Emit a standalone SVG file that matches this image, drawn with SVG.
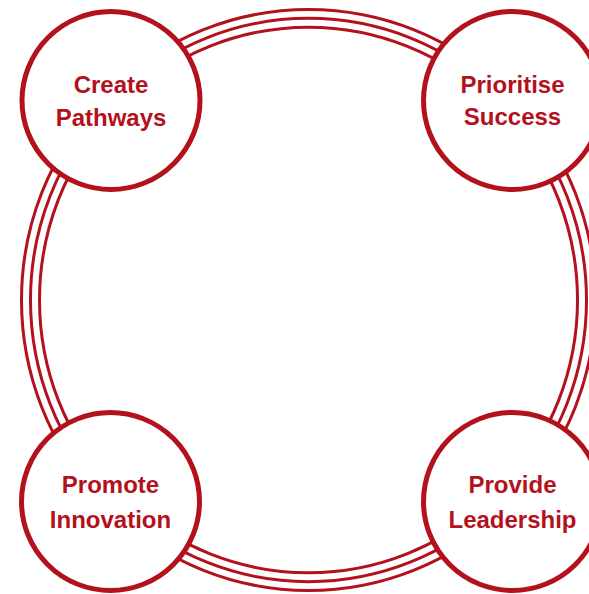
<svg xmlns="http://www.w3.org/2000/svg" width="589" height="594" viewBox="0 0 589 594">
  <style>
    .ring { fill: none; stroke: #b3111c; stroke-width: 3; }
    .node { fill: #ffffff; stroke: #b3111c; stroke-width: 5; }
    .label { font-family: "Liberation Sans", Arial, sans-serif; font-weight: bold; font-size: 24px; fill: #b3111c; text-anchor: middle; }
  </style>
  <rect width="589" height="594" fill="#ffffff"/>
  <g id="connectors">
    <ellipse class="ring" cx="308.5" cy="300" rx="269" ry="272.8"/>
    <ellipse class="ring" cx="308.5" cy="300" rx="278" ry="281.7"/>
    <ellipse class="ring" cx="308.5" cy="300" rx="287" ry="290.5"/>
  </g>
  <g id="create-pathways">
    <circle class="node" cx="111" cy="100.5" r="89"/>
    <text class="label" x="111" y="93">Create</text>
    <text class="label" x="111" y="126">Pathways</text>
  </g>
  <g id="prioritise-success">
    <circle class="node" cx="512.5" cy="100.5" r="89"/>
    <text class="label" x="512.5" y="93">Prioritise</text>
    <text class="label" x="512.5" y="125">Success</text>
  </g>
  <g id="promote-innovation">
    <circle class="node" cx="110.5" cy="501.5" r="89"/>
    <text class="label" x="110.5" y="493">Promote</text>
    <text class="label" x="110.5" y="528">Innovation</text>
  </g>
  <g id="provide-leadership">
    <circle class="node" cx="512.5" cy="501.5" r="89"/>
    <text class="label" x="512.5" y="493">Provide</text>
    <text class="label" x="512.5" y="528">Leadership</text>
  </g>
</svg>
